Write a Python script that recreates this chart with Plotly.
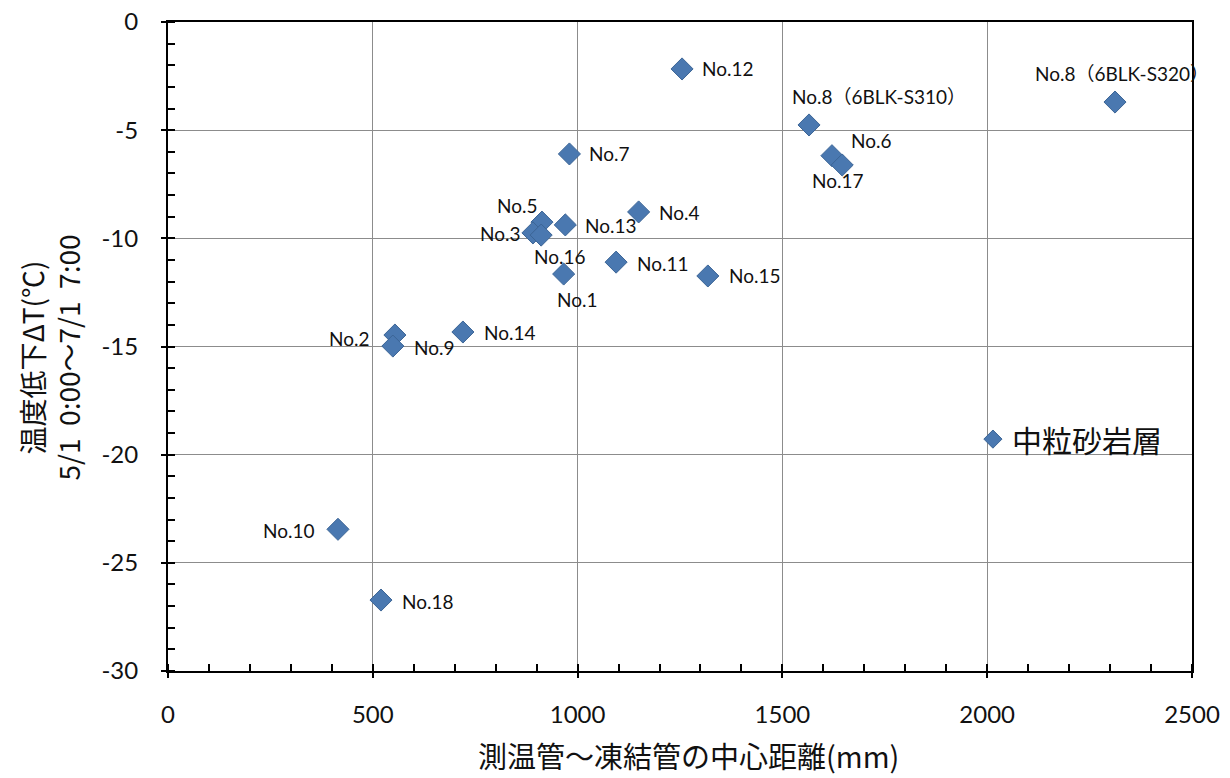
import plotly.graph_objects as go

# data
labels = ["No.12", "No.8（6BLK-S320）", "No.8（6BLK-S310）", "No.6", "No.17", "No.7", "No.4",
          "No.5", "No.13", "No.3", "No.16", "No.1", "No.11", "No.15", "No.2", "No.9",
          "No.14", "No.10", "No.18"]
dist_mm = [1255, 2312, 1565, 1621, 1646, 980, 1149, 913, 970, 891, 911, 966, 1094, 1318,
           554, 549, 720, 415, 520]
delta_t = [-2.17, -3.70, -4.76, -6.18, -6.61, -6.10, -8.78, -9.25, -9.38, -9.75, -9.85,
           -11.65, -11.10, -11.74, -14.47, -14.98, -14.33, -23.45, -26.72]
# label placement: (xanchor, yanchor, xshift, yshift)
label_pos = [("left", "middle", 18, 0), ("center", "bottom", 7, 15), ("left", "bottom", -19, 15),
             ("left", "middle", 17, 15), ("center", "middle", -4, -15), ("left", "middle", 18, 0),
             ("left", "middle", 18, -1), ("right", "middle", -2, 17), ("left", "middle", 18, -1),
             ("right", "middle", -10, -1), ("center", "middle", 19, -21), ("center", "middle", 14, -25),
             ("left", "middle", 19, -1), ("left", "middle", 19, 0), ("right", "middle", -23, -3),
             ("left", "middle", 19, -1), ("left", "middle", 19, 0), ("right", "middle", -21, -1),
             ("left", "middle", 19, -1)]

sand_label = ["中粒砂岩層"]
sand_x = [2014]
sand_y = [-19.28]

x_ticks = [0, 500, 1000, 1500, 2000, 2500]
y_ticks = [0, -5, -10, -15, -20, -25, -30]

x_title = "測温管～凍結管の中心距離(mm)"
y_title = "温度低下ΔT(℃)<br>5/1  0:00～7/1  7:00"

blue = "#4A78B0"
edge = "#3C6596"

fig = go.Figure()
fig.add_trace(go.Scatter(x=dist_mm, y=delta_t, mode="markers",
                         marker=dict(symbol="diamond", size=17, color=blue,
                                     line=dict(color=edge, width=1)),
                         showlegend=False, hoverinfo="skip", cliponaxis=False))
fig.add_trace(go.Scatter(x=sand_x, y=sand_y, mode="markers",
                         marker=dict(symbol="diamond", size=14, color=blue,
                                     line=dict(color=edge, width=1)),
                         showlegend=False, hoverinfo="skip"))

font_lab = "Lato, Noto Sans CJK JP, sans-serif"
for t, xv, yv, (xa, ya, xs, ys) in zip(labels, dist_mm, delta_t, label_pos):
    fig.add_annotation(x=xv, y=yv, text=t, showarrow=False, xanchor=xa, yanchor=ya,
                       xshift=xs, yshift=ys, font=dict(size=19, color="#111111", family=font_lab))
fig.add_annotation(x=sand_x[0], y=sand_y[0], text=sand_label[0], showarrow=False,
                   xanchor="left", yanchor="middle", xshift=17, yshift=0,
                   font=dict(size=30, color="#111111", family="Noto Sans CJK JP, sans-serif"))

# axis titles
fig.add_annotation(xref="paper", yref="paper", x=0.5, y=0, xshift=8, yshift=-84,
                   text=x_title, showarrow=False, xanchor="center", yanchor="middle",
                   font=dict(size=29, color="#111111", family="Noto Sans CJK JP, sans-serif"))
fig.add_annotation(xref="paper", yref="paper", x=0, y=0.5, xshift=-119, yshift=-11,
                   text=y_title, showarrow=False, xanchor="center", yanchor="middle",
                   textangle=-90,
                   font=dict(size=28, color="#111111", family="Noto Sans CJK JP, sans-serif"))

axis_common = dict(showgrid=True, gridcolor="#8C8C8C", gridwidth=1.3,
                   showline=True, linecolor="black", linewidth=2, mirror=True,
                   ticks="outside", ticklen=5, tickcolor="black", tickwidth=1.5,
                   tickfont=dict(size=24, family="Lato, sans-serif", color="#111111"),
                   ticklabeloverflow="allow",
                   zeroline=False, automargin=False)

# page body has an 8px margin, so the figure is 8px smaller than the window
fig.update_layout(
    width=1222, height=770,
    margin=dict(l=160, r=38, t=14, b=107),
    paper_bgcolor="white", plot_bgcolor="white",
    font=dict(family="Lato, Noto Sans, sans-serif", color="#111111"),
    xaxis=dict(range=[0, 2500], tickvals=x_ticks, ticktext=[str(v) for v in x_ticks],
               minor=dict(dtick=100, ticks="inside", ticklen=7, tickcolor="black", tickwidth=1.5,
                          showgrid=False),
               ticklabelstandoff=16, **axis_common),
    yaxis=dict(range=[-30, 0], tickvals=y_ticks, ticktext=[str(v) for v in y_ticks],
               minor=dict(dtick=1, ticks="inside", ticklen=7, tickcolor="black", tickwidth=1.5,
                          showgrid=False),
               ticklabelstandoff=18, **axis_common),
)

fig.write_html("out.html")
